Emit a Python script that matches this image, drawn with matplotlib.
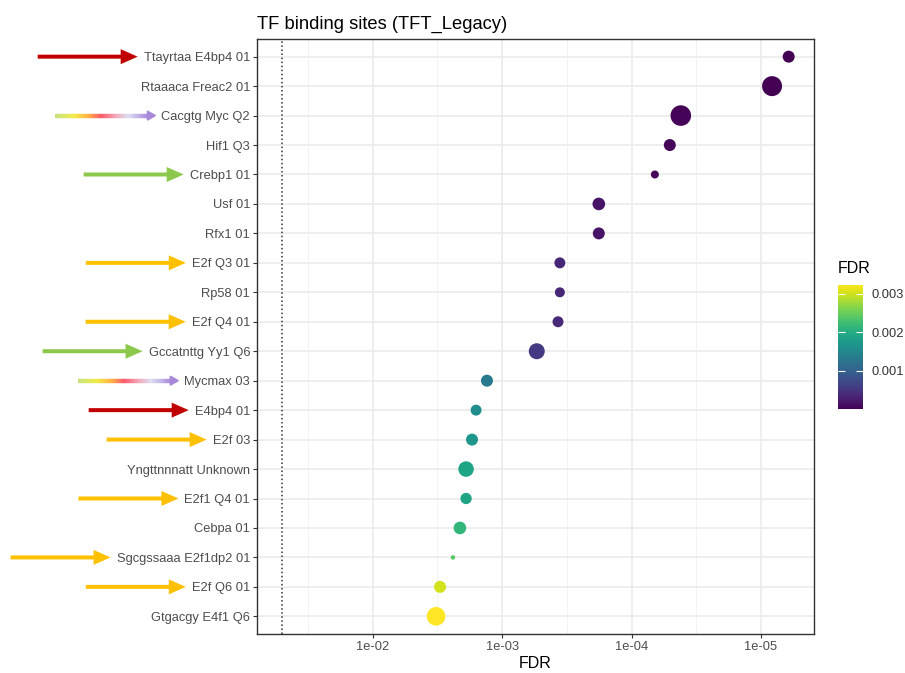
import matplotlib
matplotlib.use('Agg')
import matplotlib.pyplot as plt
import numpy as np
from matplotlib.colors import LinearSegmentedColormap, Normalize
from matplotlib.patches import FancyArrow, Polygon
from matplotlib.collections import LineCollection
from matplotlib.transforms import IdentityTransform

plt.rcParams['font.family'] = ['Liberation Sans', 'DejaVu Sans']

# TFT_Legacy enrichment, top to bottom
terms = ['Ttayrtaa E4bp4 01', 'Rtaaaca Freac2 01', 'Cacgtg Myc Q2', 'Hif1 Q3',
         'Crebp1 01', 'Usf 01', 'Rfx1 01', 'E2f Q3 01', 'Rp58 01', 'E2f Q4 01',
         'Gccatnttg Yy1 Q6', 'Mycmax 03', 'E4bp4 01', 'E2f 03',
         'Yngttnnnatt Unknown', 'E2f1 Q4 01', 'Cebpa 01', 'Sgcgssaaa E2f1dp2 01',
         'E2f Q6 01', 'Gtgacgy E4f1 Q6']
fdr = [6.1e-6, 8.2e-6, 4.16e-5, 5.06e-5, 6.6e-5, 1.79e-4, 1.79e-4, 3.58e-4,
       3.58e-4, 3.7e-4, 5.4e-4, 1.31e-3, 1.59e-3, 1.71e-3, 1.9e-3, 1.9e-3,
       2.12e-3, 2.4e-3, 3.02e-3, 3.24e-3]
hits = [36, 100, 106, 36, 16, 40, 36, 30, 25, 30, 64, 36, 30, 36, 60, 32,
        40, 5, 36, 87]
# highlight arrows next to the labels
marks = ['red', None, 'rainbow', None, 'green', None, None, 'gold', None, 'gold',
         'green', 'rainbow', 'red', 'gold', None, 'gold', None, 'gold', 'gold', None]
fdr_cutoff = 0.05

mark_colors = {'red': '#C00000', 'green': '#8CC84B', 'gold': '#FFC000'}
rainbow = LinearSegmentedColormap.from_list(
    'rb', [(0, '#C9E27E'), (0.2, '#F3EC48'), (0.36, '#FFAE45'), (0.5, '#F65A6C'),
           (0.66, '#F3AABA'), (0.8, '#DCDDF2'), (1.0, '#AC8DDA')])

W, H = 905, 673
fig = plt.figure(figsize=(W / 100, H / 100), dpi=100)
ax = fig.add_axes([257 / W, 39 / H, 557 / W, 595 / H])

n = len(terms)
ypos = np.arange(n)[::-1]
norm = Normalize(vmin=min(fdr), vmax=max(fdr))
sc = ax.scatter(fdr, ypos, s=np.array(hits) * 2.07, c=fdr, cmap='viridis',
                norm=norm, edgecolors='none', zorder=3)
ax.axvline(fdr_cutoff, color='#333333', ls=':', lw=1.1, zorder=2)

ax.set_xscale('log')
lo, hi = np.log10(fdr_cutoff), np.log10(min(fdr))
pad = 0.05 * (lo - hi)
ax.set_xlim(10 ** (lo + pad), 10 ** (hi - pad))
ax.set_ylim(-0.6, n - 0.4)

ax.set_yticks(ypos)
ax.set_yticklabels(terms)
ax.set_xticks([1e-2, 1e-3, 1e-4, 1e-5])
ax.set_xticklabels(['1e-02', '1e-03', '1e-04', '1e-05'])
ax.set_xticks([10 ** -1.5, 10 ** -2.5, 10 ** -3.5, 10 ** -4.5], minor=True)
ax.set_xticklabels([], minor=True)

ax.grid(which='major', color='#EBEBEB', lw=1.2)
ax.grid(which='minor', axis='x', color='#F2F2F2', lw=0.7)
ax.set_axisbelow(True)
for sp in ax.spines.values():
    sp.set_color('#333333')
    sp.set_linewidth(1.0)
ax.tick_params(which='major', length=3, width=0.8, color='#333333',
               labelsize=9.3, labelcolor='#4D4D4D', pad=2)
ax.tick_params(which='minor', length=0)

ax.set_xlabel('FDR', fontsize=11.5, labelpad=2)
ax.set_title('TF binding sites (TFT_Legacy)', loc='left', fontsize=13.2, pad=7)

# colour bar
cax = fig.add_axes([838 / W, (H - 409) / H, 25 / W, 124.5 / H])
cb = fig.colorbar(sc, cax=cax, ticks=[0.001, 0.002, 0.003])
cb.outline.set_visible(False)
cb.ax.set_yticklabels(['0.001', '0.002', '0.003'])
cb.ax.tick_params(left=True, right=True, direction='in', length=5, width=0.8,
                  color='white', labelsize=9.3, labelcolor='#333333', pad=6)
cb.ax.set_title('FDR', fontsize=11.5, loc='left', pad=8)

# arrows in pixel space, ending just before each label
fig.canvas.draw()
labels = ax.get_yticklabels()
for i, m in enumerate(marks):
    if m is None:
        continue
    bb = labels[i].get_window_extent()
    y = ax.transData.transform((1e-3, ypos[i]))[1]
    tip = bb.x0 - 6
    tail = tip - 100
    if m == 'rainbow':
        head = 8
        xs = np.linspace(tail, tip - head, 61)
        segs = [[(xs[k], y), (xs[k + 1], y)] for k in range(60)]
        lc = LineCollection(segs, colors=rainbow(np.linspace(0, 1, 60)),
                            linewidths=3.2, capstyle='butt',
                            transform=IdentityTransform())
        fig.add_artist(lc)
        fig.add_artist(Polygon([(tip - head, y - 4.5), (tip, y), (tip - head, y + 4.5)],
                               closed=True, color='#A888D8',
                               transform=IdentityTransform()))
    else:
        fig.add_artist(FancyArrow(tail, y, tip - tail, 0, width=4, head_width=15,
                                  head_length=17, length_includes_head=True,
                                  color=mark_colors[m], lw=0,
                                  transform=IdentityTransform()))

fig.savefig('out.png', dpi=100)
